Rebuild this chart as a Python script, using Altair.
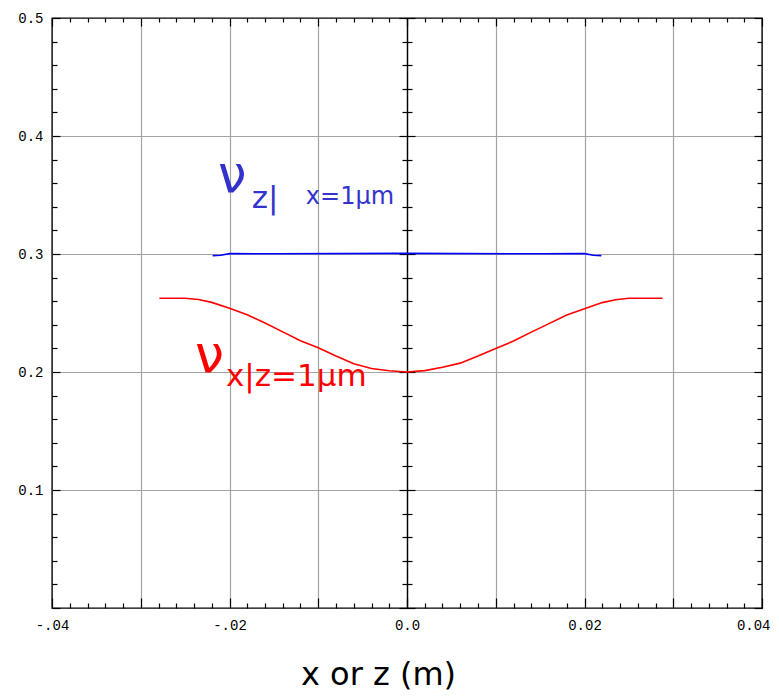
import altair as alt
import pandas as pd

# ---- data ----
red_x = [-0.0279, -0.025, -0.0235, -0.022, -0.020, -0.018, -0.016, -0.014, -0.012,
         -0.010, -0.008, -0.006, -0.004, -0.002, 0.0, 0.002, 0.004, 0.006, 0.008,
         0.010, 0.012, 0.014, 0.016, 0.018, 0.020, 0.022, 0.0235, 0.025, 0.0288]
red_y = [0.2625, 0.2625, 0.2615, 0.2590, 0.2540, 0.2485, 0.2415, 0.2340, 0.2265,
         0.2205, 0.2135, 0.2070, 0.2030, 0.2010, 0.2000, 0.2012, 0.2040, 0.2075, 0.2135,
         0.2200, 0.2262, 0.2338, 0.2410, 0.2483, 0.2536, 0.2588, 0.2612, 0.2625, 0.2625]
blue_x = [-0.0219, -0.021, -0.020, -0.015, 0.0, 0.015, 0.020, 0.021, 0.0219]
blue_y = [0.2986, 0.2990, 0.3003, 0.3002, 0.3005, 0.3002, 0.3003, 0.2990, 0.2986]

x_grid_values = [-0.04, -0.03, -0.02, -0.01, 0.0, 0.01, 0.02, 0.03, 0.04]
x_minor_values = [round(-0.04 + 0.002 * i, 3) for i in range(41)]
y_label_values = [0.1, 0.2, 0.3, 0.4, 0.5]
y_minor_values = [round(0.02 * i, 2) for i in range(26)]
x_title = "x or z (m)"

red_df = pd.DataFrame({"x": red_x, "y": red_y})
blue_df = pd.DataFrame({"x": blue_x, "y": blue_y})

W, H = 710, 590
xscale = alt.Scale(domain=[-0.04, 0.04], nice=False, zero=False)
yscale = alt.Scale(domain=[0, 0.5], nice=False, zero=False)

LABEL_FONT = "Liberation Mono"
TEXT_FONT = "DejaVu Sans"
GRID = "#a3a3a3"

x_major_test = "abs(datum.value*100 - round(datum.value*100)) < 0.001"
y_major_test = "abs(datum.value*10 - round(datum.value*10)) < 0.001"


def tsize(test, big, small):
    return {"condition": {"test": test, "value": big}, "value": small}


x_label_expr = ("abs(datum.value+0.04)<1e-6 ? '-.04' : abs(datum.value+0.02)<1e-6 ? '-.02' : "
                "abs(datum.value)<1e-6 ? '0.0' : abs(datum.value-0.02)<1e-6 ? '0.02' : "
                "abs(datum.value-0.04)<1e-6 ? '0.04' : ''")

xA = alt.Axis(values=x_grid_values, labelExpr=x_label_expr, grid=True, gridColor=GRID,
              gridWidth=1.2,
              gridOpacity={"condition": {"test": "abs(datum.value) > 0.035", "value": 0}, "value": 1},
              ticks=False, domain=False, labelFont=LABEL_FONT, labelFontSize=14,
              labelColor="black", labelPadding=10, labelFlush=False, labelOverlap=False,
              labelAlign={"condition": {"test": "datum.value > 0.035", "value": "right"},
                          "value": "center"},
              labelOffset={"condition": {"test": "datum.value > 0.035", "value": 8}, "value": 0},
              title=x_title, titleFont=TEXT_FONT, titleFontSize=32, titleFontWeight="normal",
              titleColor="black", titleX=326, titleY=76, titleBaseline="alphabetic",
              titleAlign="center")
yA = alt.Axis(values=y_label_values, format=".1f", grid=True, gridColor=GRID, gridWidth=1.2,
              gridOpacity={"condition": {"test": "datum.value > 0.45", "value": 0}, "value": 1},
              ticks=False, domain=False, labelFont=LABEL_FONT, labelFontSize=14,
              labelColor="black", labelPadding=9, labelOverlap=False, title=None)

common_tick = dict(labels=False, grid=False, domain=False, title=None, tickColor="black",
                   tickWidth=1.2)
xB = alt.Axis(orient="top", offset=-H, values=x_minor_values,
              tickSize=tsize(x_major_test, 10, 5), **common_tick)
xC = alt.Axis(orient="bottom", offset=-H, values=x_minor_values,
              tickSize=tsize(x_major_test, 8, 4), **common_tick)
yB = alt.Axis(orient="right", offset=-W, values=y_minor_values,
              tickSize=tsize(y_major_test, 8, 5), **common_tick)
yC = alt.Axis(orient="left", offset=-W, values=y_minor_values,
              tickSize=tsize(y_major_test, 8, 5), **common_tick)
yD = alt.Axis(orient="left", offset=-W / 2, values=y_minor_values, labels=False, grid=False,
              domain=True, domainColor="black", domainWidth=1.4, title=None,
              tickColor="black", tickWidth=1.2, tickSize=tsize(y_major_test, 8, 5))
yE = alt.Axis(orient="right", offset=-W / 2, values=y_minor_values,
              tickSize=tsize(y_major_test, 8, 5), **common_tick)

red_line = alt.Chart(red_df).mark_line(color="#ff0000", strokeWidth=1.6).encode(
    x=alt.X("x:Q", scale=xscale, axis=xA),
    y=alt.Y("y:Q", scale=yscale, axis=yA),
)
blue_line = alt.Chart(blue_df).mark_line(color="#0000ff", strokeWidth=1.6).encode(
    x=alt.X("x:Q", scale=xscale, axis=xB),
    y=alt.Y("y:Q", scale=yscale, axis=yB),
)

one = alt.Data(values=[{}])


def label(text, x, y, size, color, xaxis=None, yaxis=None):
    return alt.Chart(one).mark_text(text=text, align="left", baseline="alphabetic",
                                    font=TEXT_FONT, fontSize=size, color=color).encode(
        x=alt.XDatum(x, type="quantitative", scale=xscale, axis=xaxis),
        y=alt.YDatum(y, type="quantitative", scale=yscale, axis=yaxis),
    )


BLUE_T = "#3333cc"
RED_T = "#ff0000"
t1 = label("ν", -0.0213, 0.3525, 51, BLUE_T, xaxis=xC, yaxis=yC)
t2 = label("z|", -0.0175, 0.339, 31, BLUE_T, yaxis=yD)
t3 = label("x=1μm", -0.0114, 0.3424, 24, BLUE_T, yaxis=yE)
t4 = label("ν", -0.0239, 0.2, 52, RED_T)
t5 = label("x|z=1μm", -0.0204, 0.1881, 31, RED_T)

chart = alt.layer(red_line, blue_line, t1, t2, t3, t4, t5).resolve_axis(
    x="independent", y="independent"
).properties(
    width=W, height=H,
    autosize=alt.AutoSizeParams(type="none"),
    padding={"left": 44, "top": 10, "right": 9, "bottom": 84},
).configure_view(stroke="black", strokeWidth=1.4)

chart.save("out.html", embed_options={"renderer": "svg", "actions": False})
